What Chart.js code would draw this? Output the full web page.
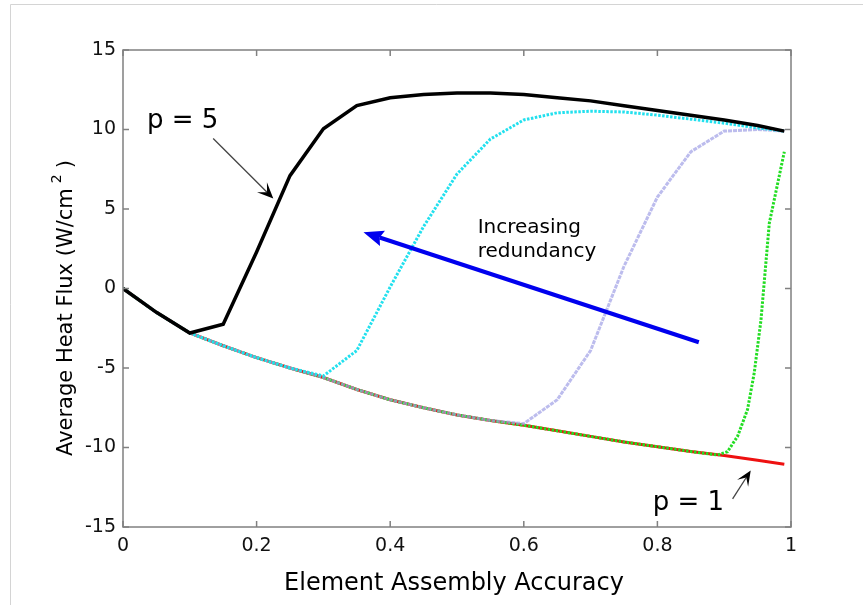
<!DOCTYPE html>
<html>
<head>
<meta charset="utf-8">
<script src="https://cdn.jsdelivr.net/npm/chart.js@4.4.1/dist/chart.umd.min.js"></script>
<style>
  body { margin: 0; background: #fff; }
</style>
</head>
<body>
<canvas id="myChart" width="863" height="605"></canvas>
<script>
// element assembly accuracy (x)
var accuracy = [0, 0.05, 0.1, 0.15, 0.2, 0.25, 0.3, 0.35, 0.4, 0.45, 0.5, 0.55, 0.6, 0.65, 0.7, 0.75, 0.8, 0.85, 0.9, 0.95, 0.99];
// average heat flux (W/cm^2) for each redundancy level
var fluxP5 = [0, -1.5, -2.8, -2.25, 2.3, 7.1, 10.05, 11.5, 12.0, 12.2, 12.3, 12.3, 12.2, 12.0, 11.8, 11.5, 11.2, 10.9, 10.6, 10.25, 9.9];
var fluxP4 = [0, -1.5, -2.8, -3.6, -4.35, -5.0, -5.5, -3.9, 0.1, 3.9, 7.2, 9.4, 10.6, 11.05, 11.15, 11.1, 10.9, 10.65, 10.4, 10.1, 9.9];
var fluxP3 = [0, -1.5, -2.8, -3.6, -4.35, -5.0, -5.6, -6.35, -7.0, -7.5, -7.95, -8.3, -8.5, -7.0, -3.9, 1.4, 5.75, 8.6, 9.9, 10.0, 9.9];
var fluxP1 = [0, -1.5, -2.8, -3.6, -4.35, -5.0, -5.6, -6.35, -7.0, -7.5, -7.95, -8.3, -8.6, -8.95, -9.3, -9.65, -9.95, -10.25, -10.5, -10.8, -11.05];
// p = 2 has a finer grid near the end
var accuracyP2 = [0, 0.05, 0.1, 0.15, 0.2, 0.25, 0.3, 0.35, 0.4, 0.45, 0.5, 0.55, 0.6, 0.65, 0.7, 0.75, 0.8, 0.85, 0.89, 0.905, 0.92, 0.935, 0.945, 0.955, 0.9675, 0.99];
var fluxP2 = [0, -1.5, -2.8, -3.6, -4.35, -5.0, -5.6, -6.35, -7.0, -7.5, -7.95, -8.3, -8.6, -8.95, -9.3, -9.65, -9.95, -10.25, -10.47, -10.26, -9.3, -7.6, -5.3, -2.0, 4.1, 8.6];

var xTicks = [0, 0.2, 0.4, 0.6, 0.8, 1];
var yTicks = [-15, -10, -5, 0, 5, 10, 15];

// annotations, in data units
var notes = {
  p5: { text: 'p = 5', x: 0.036, y: 10.1, from: [0.135, 9.43], to: [0.225, 5.66] },
  p1: { text: 'p = 1', x: 0.793, y: -13.96, from: [0.9126, -13.23], to: [0.9397, -11.45] },
  trend: { lines: ['Increasing', 'redundancy'], x: 0.531, y: [3.49, 1.98], from: [0.862, -3.38], to: [0.36, 3.54] }
};

function pts(xs, ys) {
  return xs.map(function (x, i) { return { x: x, y: ys[i] }; });
}

var FONT = '"DejaVu Sans", sans-serif';

function arrow(ctx, x0, y0, x1, y1, lw, color, headColor, len, half, notch) {
  var ang = Math.atan2(y1 - y0, x1 - x0);
  ctx.save();
  ctx.strokeStyle = color;
  ctx.lineWidth = lw;
  ctx.beginPath();
  ctx.moveTo(x0, y0);
  ctx.lineTo(x1 - Math.cos(ang) * len * notch, y1 - Math.sin(ang) * len * notch);
  ctx.stroke();
  ctx.translate(x1, y1);
  ctx.rotate(ang);
  ctx.fillStyle = headColor;
  ctx.beginPath();
  ctx.moveTo(0, 0);
  ctx.lineTo(-len, -half);
  ctx.lineTo(-len * notch, 0);
  ctx.lineTo(-len, half);
  ctx.closePath();
  ctx.fill();
  ctx.restore();
}

var decor = {
  id: 'decor',
  beforeDraw: function (chart) {
    var ctx = chart.ctx;
    ctx.save();
    ctx.fillStyle = '#fff';
    ctx.fillRect(0, 0, chart.width, chart.height);
    // light frame of the original figure
    ctx.strokeStyle = '#d4d4d4';
    ctx.lineWidth = 1;
    ctx.beginPath();
    ctx.moveTo(10.5, chart.height);
    ctx.lineTo(10.5, 4.5);
    ctx.lineTo(chart.width, 4.5);
    ctx.stroke();
    ctx.restore();
  },
  afterDraw: function (chart) {
    var ctx = chart.ctx, a = chart.chartArea;
    var sx = chart.scales.x, sy = chart.scales.y;
    ctx.save();
    // box with inward ticks
    ctx.strokeStyle = '#808080';
    ctx.lineWidth = 1.5;
    ctx.strokeRect(a.left, a.top, a.right - a.left, a.bottom - a.top);
    ctx.beginPath();
    xTicks.forEach(function (v) {
      var p = sx.getPixelForValue(v);
      ctx.moveTo(p, a.bottom); ctx.lineTo(p, a.bottom - 6);
      ctx.moveTo(p, a.top); ctx.lineTo(p, a.top + 6);
    });
    yTicks.forEach(function (v) {
      var p = sy.getPixelForValue(v);
      ctx.moveTo(a.left, p); ctx.lineTo(a.left + 6, p);
      ctx.moveTo(a.right, p); ctx.lineTo(a.right - 6, p);
    });
    ctx.stroke();

    // axis titles
    ctx.fillStyle = '#000';
    ctx.textAlign = 'center';
    ctx.textBaseline = 'alphabetic';
    ctx.font = '24px ' + FONT;
    ctx.fillText('Element Assembly Accuracy', 454, 590);

    ctx.save();
    ctx.translate(72, 456);
    ctx.rotate(-Math.PI / 2);
    ctx.textAlign = 'left';
    ctx.font = '21px ' + FONT;
    var main = 'Average Heat Flux (W/cm';
    ctx.fillText(main, 0, 0);
    var w = ctx.measureText(main).width;
    ctx.font = '14px ' + FONT;
    ctx.fillText('2', w + 5, -11);
    var w2 = ctx.measureText('2').width;
    ctx.font = '21px ' + FONT;
    ctx.fillText(')', w + 5 + w2 + 6, 0);
    ctx.restore();

    // annotations
    var px = function (v) { return sx.getPixelForValue(v); };
    var py = function (v) { return sy.getPixelForValue(v); };
    ctx.textAlign = 'left';
    ctx.font = '26px ' + FONT;
    ctx.fillText(notes.p5.text, px(notes.p5.x), py(notes.p5.y));
    ctx.fillText(notes.p1.text, px(notes.p1.x), py(notes.p1.y));
    ctx.font = '20px ' + FONT;
    ctx.fillText(notes.trend.lines[0], px(notes.trend.x), py(notes.trend.y[0]));
    ctx.fillText(notes.trend.lines[1], px(notes.trend.x), py(notes.trend.y[1]));

    arrow(ctx, px(notes.p5.from[0]), py(notes.p5.from[1]), px(notes.p5.to[0]), py(notes.p5.to[1]), 1.3, '#444', '#000', 16, 7, 0.55);
    arrow(ctx, px(notes.p1.from[0]), py(notes.p1.from[1]), px(notes.p1.to[0]), py(notes.p1.to[1]), 1.3, '#444', '#000', 15, 6.5, 0.55);
    arrow(ctx, px(notes.trend.from[0]), py(notes.trend.from[1]), px(notes.trend.to[0]), py(notes.trend.to[1]), 4, '#0000ee', '#0000ee', 20, 8, 0.85);
    ctx.restore();
  }
};

var ctx = document.getElementById('myChart');
var myChart = new Chart(ctx, {
  type: 'line',
  data: {
    datasets: [
      { label: 'p = 5', data: pts(accuracy, fluxP5), borderColor: '#000', borderWidth: 3.5, order: 0 },
      { label: 'p = 4', data: pts(accuracy, fluxP4), borderColor: '#22e0ee', borderWidth: 3, borderDash: [2.5, 1.5], order: 1 },
      { label: 'p = 3', data: pts(accuracy, fluxP3), borderColor: 'rgba(160,160,230,0.7)', borderWidth: 3, borderDash: [4, 1], order: 2 },
      { label: 'p = 2', data: pts(accuracyP2, fluxP2), borderColor: '#22dd22', borderWidth: 3, borderDash: [2.5, 1.5], order: 3 },
      { label: 'p = 1', data: pts(accuracy, fluxP1), borderColor: '#ee1111', borderWidth: 3, order: 4 }
    ]
  },
  options: {
    responsive: false,
    animation: false,
    devicePixelRatio: 1,
    layout: { padding: { left: 0, top: 50, right: 72, bottom: 0 } },
    elements: { point: { radius: 0 }, line: { tension: 0, fill: false } },
    plugins: { legend: { display: false }, tooltip: { enabled: false } },
    scales: {
      x: {
        type: 'linear', min: 0, max: 1,
        afterFit: function (s) { s.height = 78; },
        afterBuildTicks: function (s) { s.ticks = xTicks.map(function (v) { return { value: v }; }); },
        grid: { display: false, drawTicks: false },
        border: { display: false },
        ticks: {
          padding: 8, color: '#111', font: { family: FONT, size: 19 },
          maxRotation: 0, autoSkip: false,
          callback: function (v) { return String(Number(v.toFixed(1))); }
        }
      },
      y: {
        min: -15, max: 15,
        afterFit: function (s) { s.width = 123; },
        afterBuildTicks: function (s) { s.ticks = yTicks.map(function (v) { return { value: v }; }); },
        grid: { display: false, drawTicks: false },
        border: { display: false },
        ticks: { padding: 7, color: '#111', font: { family: FONT, size: 19 }, autoSkip: false }
      }
    }
  },
  plugins: [decor]
});
</script>
</body>
</html>
